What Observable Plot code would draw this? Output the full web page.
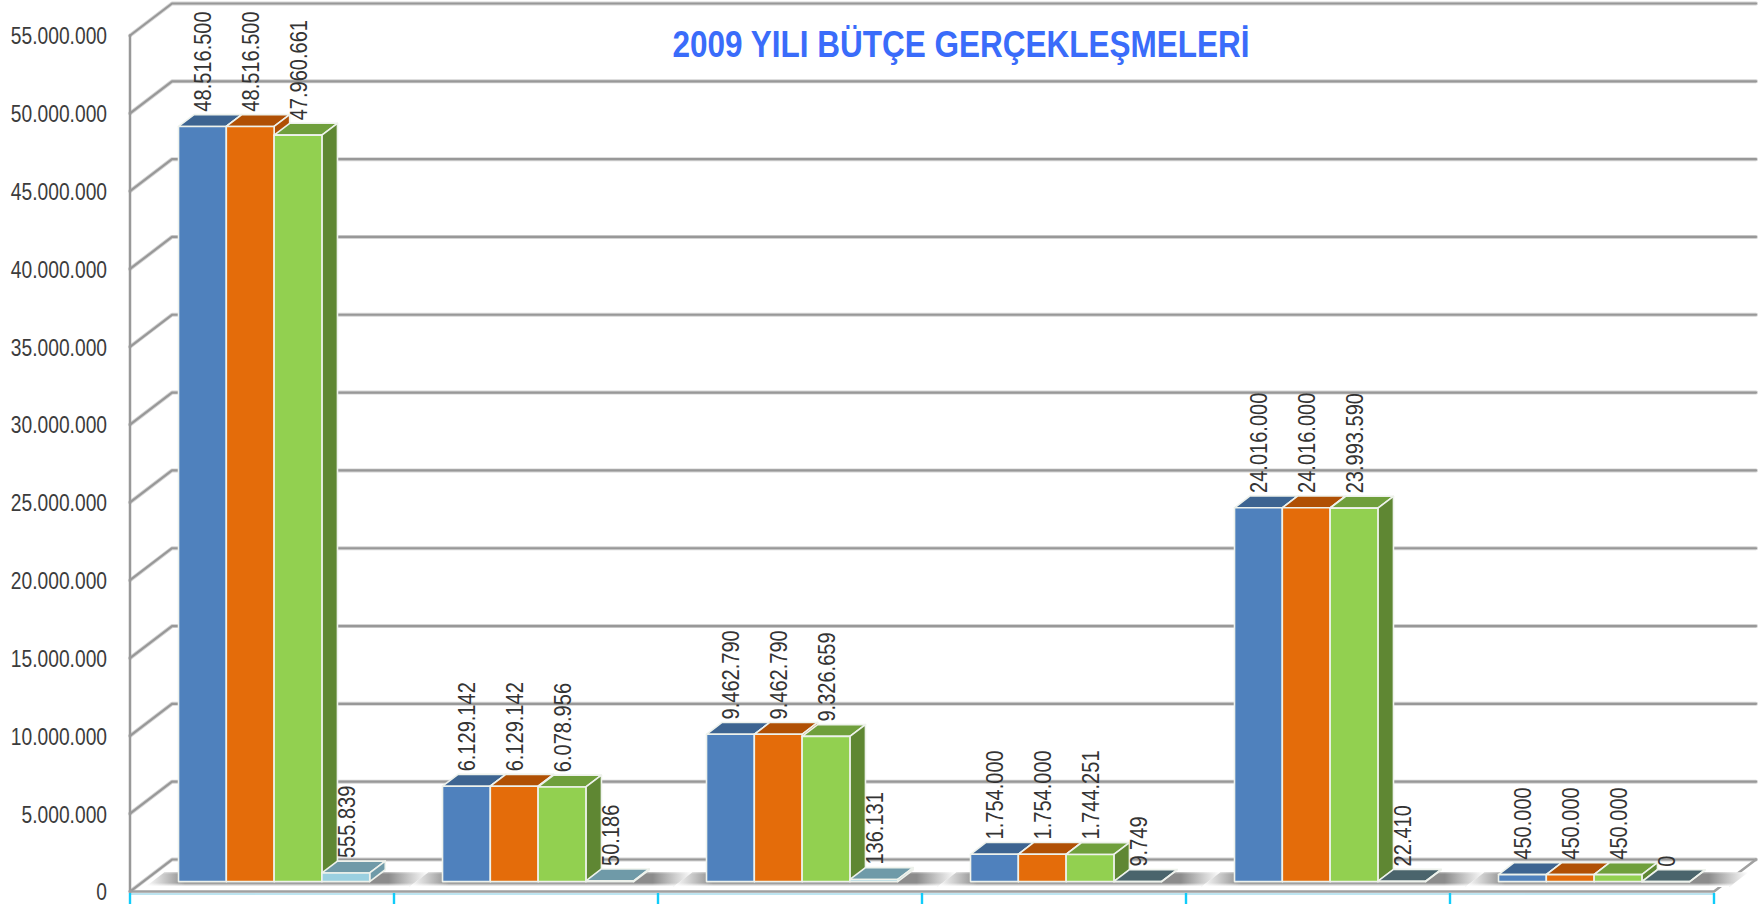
<!DOCTYPE html>
<html><head><meta charset="utf-8">
<style>html,body{margin:0;padding:0;background:#fff;overflow:hidden}svg{display:block}</style>
<script src="https://cdn.jsdelivr.net/npm/d3@7"></script>
<script src="https://cdn.jsdelivr.net/npm/@observablehq/plot@0.6"></script>
</head><body><div id="chart"></div>
<script>
const titleText = "2009 YILI BÜTÇE GERÇEKLEŞMELERİ";
const groups = [0, 1, 2, 3, 4, 5];
const seriesA = [48516500, 6129142, 9462790, 1754000, 24016000, 450000];
const seriesB = [48516500, 6129142, 9462790, 1754000, 24016000, 450000];
const seriesC = [47960661, 6078956, 9326659, 1744251, 23993590, 450000];
const seriesD = [555839, 50186, 136131, 9749, 22410, 0];
const yTicks = [0, 5e6, 10e6, 15e6, 20e6, 25e6, 30e6, 35e6, 40e6, 45e6, 50e6, 55e6];

const W = 1762, H = 904, mL = 129.5, mR = 48.5, mT = 35, mB = 13;
const pxU = (W - mL - mR) / 6, pxV = (H - mT - mB) / 55e6;
const font = "'Liberation Sans',Arial,sans-serif";
const fmt = d3.formatLocale({decimal: ",", thousands: ".", grouping: [3], currency: ["", ""]}).format(",d");

// oblique projection: depth 0 = front of floor, 1 = back wall
const X = (u, d) => u + d * 42 / pxU;
const Y = (v, d) => v + d * 32 / pxV;
const P = (u, v, d) => ({x: X(u, d), y: Y(v, d)});

const series = [seriesA, seriesB, seriesC, seriesD];
const faces = [
  {front: "#4f81bd", top: "#3d6491", side: "#3d6491"},
  {front: "#e46c0a", top: "#b05004", side: "#b05004"},
  {front: "#92d050", top: "#6f9f3c", side: "#5f8733"}
];
const teal = v => v < 25000
  ? {front: "#4a646c", top: "#4a646c", side: "#4a646c"}
  : {front: "#9ad0e0", top: "#6f9aa8", side: "#6f9aa8"};
const d0 = 0.31, d1 = 0.68, pad = 35.5 / pxU, bw = 47.8 / pxU;

const polys = [], labels = [], shadows = [], grid = [];
for (const v of yTicks) for (const p of [P(0, v, 0), P(0, v, 1), P(6, v, 1)]) grid.push({...p, k: v});
for (const g of groups) {
  const a = g + 0.035, b = g + 1.035;
  for (const p of [P(a, 0, .14), P(b, 0, .14), P(b, 0, .6), P(a, 0, .6), P(a, 0, .14)]) shadows.push({...p, k: g});
  series.forEach((s, j) => {
    const v = s[g], c = j < 3 ? faces[j] : teal(v);
    const u0 = g + pad + j * bw, u1 = u0 + bw;
    const add = (name, fill, pts) => pts.forEach(p => polys.push({...p, k: `${g}-${j}-${name}`, fill}));
    add("top", c.top, [P(u0, v, d0), P(u1, v, d0), P(u1, v, d1), P(u0, v, d1), P(u0, v, d0)]);
    add("side", c.side, [P(u1, 0, d0), P(u1, v, d0), P(u1, v, d1), P(u1, 0, d1), P(u1, 0, d0)]);
    add("front", c.front, [P(u0, 0, d0), P(u1, 0, d0), P(u1, v, d0), P(u0, v, d0), P(u0, 0, d0)]);
    labels.push({x: X((u0 + u1) / 2, d0) + 1 / pxU, y: Y(v, d1) + 3 / pxV, text: fmt(v)});
  });
}
const tickU = [0, 1, 2, 3, 4, 5, 6];

const defs = () => {
  const el = d3.create("svg:defs");
  const gr = el.append("linearGradient").attr("id", "floorShade");
  [[0, "#ffffff"], [.06, "#cfcfcf"], [.14, "#8c8c8c"], [.86, "#8c8c8c"], [.94, "#cfcfcf"], [1, "#ffffff"]]
    .forEach(([o, c]) => gr.append("stop").attr("offset", o).attr("stop-color", c));
  const fade = el.append("linearGradient").attr("id", "floorFade").attr("x1", 0).attr("x2", 0).attr("y1", 0).attr("y2", 1);
  [[0, .3], [.15, 0], [.72, 0], [.95, 1], [1, 1]]
    .forEach(([o, a]) => fade.append("stop").attr("offset", o).attr("stop-color", "#fff").attr("stop-opacity", a));
  return el.node();
};

const chart = Plot.plot({
  width: W, height: H,
  marginLeft: mL, marginRight: mR, marginTop: mT, marginBottom: mB,
  style: {background: "#fff", overflow: "visible"},
  x: {type: "linear", domain: [0, 6], axis: null},
  y: {type: "linear", domain: [0, 55e6], axis: null},
  color: {type: "identity"},
  marks: [
    defs,
    Plot.line(grid, {x: "x", y: "y", z: "k", stroke: "#d4d4d4", strokeWidth: 4, curve: "linear"}),
    Plot.line(grid, {x: "x", y: "y", z: "k", stroke: "#989898", strokeWidth: 2.2, curve: "linear"}),
    Plot.line([P(0, 0, 0), P(0, 55e6, 0)], {x: "x", y: "y", stroke: "#989898", strokeWidth: 2.5}),
    Plot.line([P(0, 0, 0), P(6, 0, 0), P(6, 0, 1)], {x: "x", y: "y", stroke: "#a0a0a0", strokeWidth: 2.5}),
    Plot.line([P(0, -2.5 / pxV, 0), P(6, -2.5 / pxV, 0)], {x: "x", y: "y", stroke: "#a8dcec", strokeWidth: 1.5}),
    Plot.ruleX(tickU, {x: d => d, y1: -2 / pxV, y2: -13 / pxV, stroke: "#10ccfa", strokeWidth: 2.4}),
    Plot.line(shadows, {x: "x", y: "y", z: "k", fill: "url(#floorShade)", stroke: "none"}),
    Plot.line(shadows, {x: "x", y: "y", z: "k", fill: "url(#floorFade)", stroke: "none"}),
    Plot.line(polys, {x: "x", y: "y", z: "k", fill: "fill", stroke: "#eef2ec", strokeWidth: 1.6, curve: "linear"}),
    Plot.axisY({ticks: yTicks, tickSize: 0, tickPadding: 23, tickFormat: fmt, label: null, fontSize: 23, fontFamily: font, fill: "#3c3c3c", dy: 1.5}),
    Plot.text(labels, {x: "x", y: "y", text: "text", rotate: -90, textAnchor: "start", lineAnchor: "middle", fontSize: 24, fontFamily: font, fill: "#333"}),
    Plot.text([titleText], {frameAnchor: "top", dx: 39, dy: 10, lineAnchor: "middle", fontSize: 36, fontWeight: "bold", fontFamily: font, fill: "#3a6cfa"})
  ]
});
document.getElementById("chart").append(chart);
// the reference's lettering is condensed: compress each text along its run
const squeeze = (t, k) => {
  const len = t.getComputedTextLength();
  t.setAttribute("textLength", len * k);
  t.setAttribute("lengthAdjust", "spacingAndGlyphs");
};
chart.querySelectorAll("text").forEach(t => {
  squeeze(t, t.textContent === titleText ? 0.875 : 0.835);
});
</script></body></html>
